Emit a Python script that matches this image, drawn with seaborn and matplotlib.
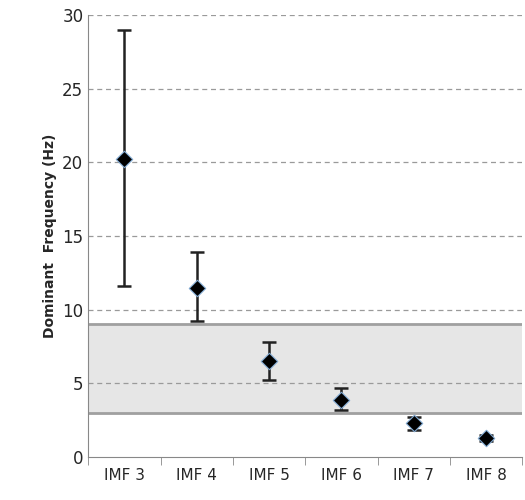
import matplotlib
matplotlib.use("Agg")
import matplotlib.pyplot as plt
import pandas as pd
import seaborn as sns

categories = ["IMF 3", "IMF 4", "IMF 5", "IMF 6", "IMF 7", "IMF 8"]
means = [20.2, 11.5, 6.5, 3.9, 2.3, 1.3]
lower = [11.6, 9.2, 5.2, 3.2, 1.8, 1.1]
upper = [29.0, 13.9, 7.8, 4.7, 2.7, 1.5]
band = (3.0, 9.0)

df = pd.DataFrame({"imf": categories, "mean": means, "lo": lower, "hi": upper})
df["x"] = range(len(df))

sns.set_style("white")
plt.rcParams["font.family"] = ["DejaVu Sans"]
fig, ax = plt.subplots(figsize=(5.25, 5.0), dpi=100)
fig.subplots_adjust(left=0.168, right=0.995, top=0.97, bottom=0.086)

ax.axhspan(band[0], band[1], color="#e6e6e6", zorder=0)
for b in band:
    ax.axhline(b, color="#a0a0a0", lw=2, zorder=1)
for g in range(5, 31, 5):
    if g not in (5,):
        pass
    ax.axhline(g, color="#9a9a9a", lw=0.9, ls=(0, (4, 3)), zorder=0.5)

ax.errorbar(df["x"], df["mean"], yerr=[df["mean"] - df["lo"], df["hi"] - df["mean"]],
            fmt="none", ecolor="#222222", elinewidth=1.8, capsize=5, capthick=1.8, zorder=2)
sns.scatterplot(data=df, x="x", y="mean", marker="D", s=70, color="black",
                edgecolor="#7fa7d0", linewidth=0.8, zorder=3, ax=ax)

ax.set_xlim(-0.5, 5.5)
ax.set_ylim(0, 30)
ax.set_yticks(range(0, 31, 5))
ax.set_xticks(df["x"])
ax.set_xticklabels(categories, fontsize=11)
ax.set_xticks([i - 0.5 for i in range(7)], minor=True)
ax.tick_params(axis="x", which="major", length=0, pad=8)
ax.tick_params(axis="x", which="minor", length=6, color="#888888", direction="out", bottom=True)
ax.tick_params(axis="y", labelsize=12, length=0)
ax.set_xlabel("")
ax.set_ylabel("Dominant  Frequency (Hz)", fontsize=10, fontweight="bold")
for s in ["top", "right"]:
    ax.spines[s].set_visible(False)
for s in ["left", "bottom"]:
    ax.spines[s].set_color("#888888")

plt.savefig("out.png")
plt.close()
